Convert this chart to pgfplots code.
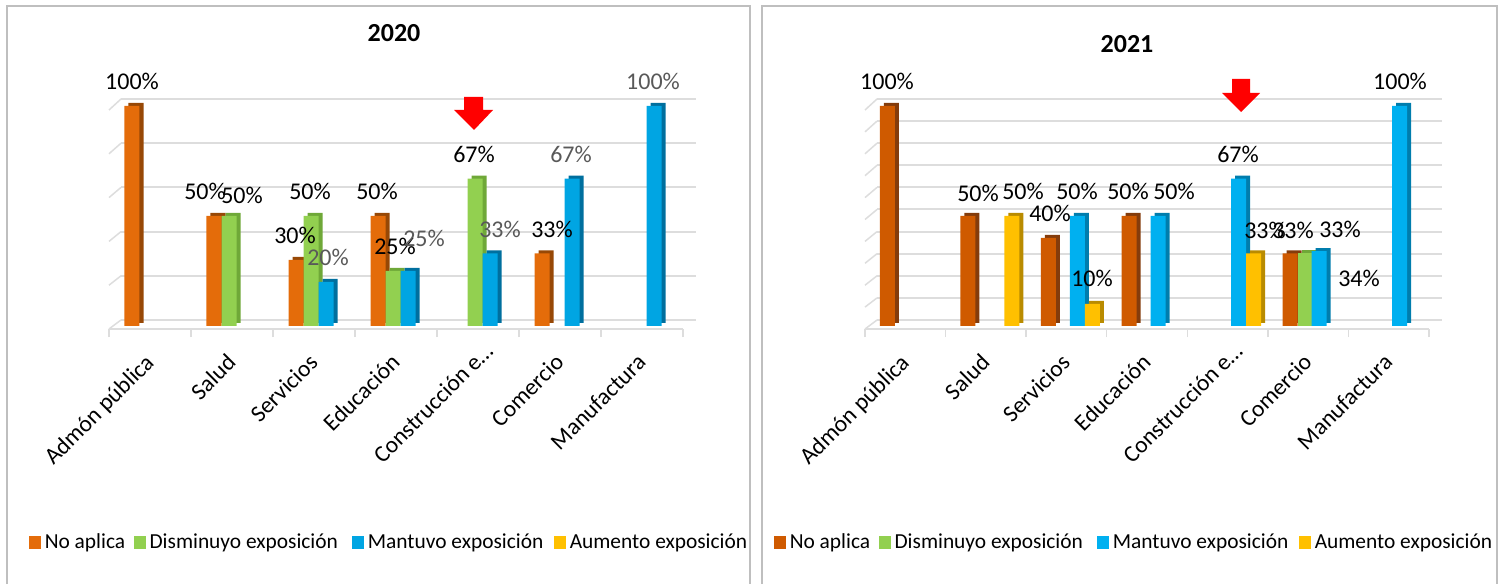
\documentclass[border=0pt]{standalone}
\usepackage{fontspec}
\setmainfont{Carlito}
\usepackage{pgfplots}
\usepackage{pgfplotstable}
\pgfplotsset{compat=1.18}

\definecolor{noA}{HTML}{E46C0A}\definecolor{noAs}{HTML}{974806}
\definecolor{noB}{HTML}{CF5A00}\definecolor{noBs}{HTML}{843C0C}
\definecolor{dis}{HTML}{92D050}\definecolor{diss}{HTML}{6FA838}
\definecolor{manA}{HTML}{00A5E3}\definecolor{manAs}{HTML}{006F9E}
\definecolor{manB}{HTML}{00B0F0}\definecolor{manBs}{HTML}{007DAD}
\definecolor{aum}{HTML}{FFC000}\definecolor{aums}{HTML}{B98B00}
\definecolor{gridc}{HTML}{DDDDDD}
\definecolor{framec}{HTML}{BFBFBF}
\definecolor{lab}{HTML}{595959}

% 2020
\pgfplotstableread{
x y
0 1
1 0.5
2 0.3
3 0.5
5 0.33
}\aNo
\pgfplotstableread{
x y
1 0.5
2 0.5
3 0.25
4 0.67
}\aDis
\pgfplotstableread{
x y
2 0.2
3 0.25
4 0.33
5 0.67
6 1
}\aMan
% 2021
\pgfplotstableread{
x y
0 1
1 0.5
2 0.4
3 0.5
5 0.33
}\bNo
\pgfplotstableread{
x y
5 0.33
}\bDis
\pgfplotstableread{
x y
2 0.5
3 0.5
4 0.67
5 0.34
6 1
}\bMan
\pgfplotstableread{
x y
1 0.5
2 0.1
4 0.33
}\bAum

% front face and darker side of one series: colour, side colour, shift, table
\newcommand{\barseries}[4]{%
  \addplot[ybar,bar width=15pt,bar shift=#3,fill=#2,draw=none,xshift=4pt,yshift=3pt,forget plot] table[x=x,y=y] {#4};
  \addplot[ybar,bar width=15pt,bar shift=#3,fill=#1,draw=none,forget plot] table[x=x,y=y] {#4};
}
\newcommand{\swatch}[2]{%
  \addlegendimage{legend image code/.code={\fill[#1] (0pt,-6pt) rectangle (11pt,6pt);}}
  \addlegendentry{#2}
}

\tikzset{lb/.style={font=\fontsize{24}{26}\selectfont,inner sep=0pt}}

\pgfplotsset{
  wall/.style={
    scale only axis,clip=false,
    xmin=0,xmax=1,ymin=0,ymax=1,
    axis line style={draw=none},
    xtick=\empty,yticklabels={},
    major tick length=0pt,
    ymajorgrids,
    grid style={gridc,line width=2pt},
  },
  front/.style={
    scale only axis,clip=false,
    width=574pt,height=223pt,
    xmin=-0.5,xmax=6.5,ymin=-0.01364,ymax=1,
    axis x line=bottom,axis y line=none,
    axis line style={gridc,line width=1.5pt,-},
    xtick={0,...,6},
    minor xtick={-0.5,0.5,...,6.5},
    major tick length=0pt,
    minor tick length=8pt,
    tick align=outside,
    minor tick style={gridc,line width=1.5pt},
    xticklabels={Admón pública,Salud,Servicios,Educación,Construcción e…\hspace*{-16pt},Comercio,Manufactura},
    xticklabel style={rotate=45,anchor=north east,inner sep=0pt,font=\fontsize{23.5}{25}\selectfont,yshift=-12pt,xshift=-21pt},
    legend columns=4,
    legend cell align=left,
    legend style={
      draw=none,fill=none,inner sep=0pt,anchor=west,
      font=\fontsize{21.4}{24}\selectfont,
      /tikz/every odd column/.style={column sep=2pt},
      /tikz/column 2/.style={column sep=7pt},
      /tikz/column 4/.style={column sep=12.5pt},
      /tikz/column 6/.style={column sep=9pt},
    },
  },
}

\begin{document}
\begin{tikzpicture}[x=1pt,y=1pt]
\path[use as bounding box] (0,0) rectangle (1505,584);

% panel frames
\draw[framec,line width=2pt] (7,0) -- (7,578) -- (750,578) -- (750,0);
\draw[framec,line width=2pt] (762,0) -- (762,578) -- (1497,578) -- (1497,0);

% ---------- 2020
\begin{axis}[wall,at={(121pt,264pt)},anchor=south west,width=575pt,height=221pt,ytick={0,0.2,0.4,0.6,0.8,1}]
\end{axis}
\foreach \v in {0,0.2,0.4,0.6,0.8,1}
  \draw[gridc,line width=1.5pt] (121,264+221*\v) -- (109,255+219*\v);
\begin{axis}[front,at={(109pt,255pt)},anchor=south west,legend style={at={(-0.139,-0.955)}}]
  \swatch{noA}{No aplica}
  \swatch{dis}{Disminuyo exposición}
  \swatch{manA}{Mantuvo exposición}
  \swatch{aum}{Aumento exposición}
  \barseries{noA}{noAs}{-18pt}{\aNo}
  \barseries{dis}{diss}{-3pt}{\aDis}
  \barseries{manA}{manAs}{12pt}{\aMan}
\end{axis}
\node[lb,font=\fontsize{26}{28}\selectfont\bfseries] at (394,551) {2020};
\fill[red] (464,487) -- (483,487) -- (483,474) -- (493,474) -- (474,454) -- (454,474) -- (464,474) -- cycle;
\foreach \px/\py/\t in {132/81/100\%,205/191/50\%,242/195/50\%,310/191/50\%,295/235/30\%,377/191/50\%,395/246/25\%,474/154/67\%,552/229/33\%}
  \node[lb] at (\px,584-\py) {\t};
\foreach \px/\py/\t in {653/81/100\%,328/257/20\%,424/238/25\%,500/229/33\%,571/154/67\%}
  \node[lb,text=lab] at (\px,584-\py) {\t};

% ---------- 2021
\begin{axis}[wall,at={(877pt,264pt)},anchor=south west,width=565pt,height=221pt,ytick={0,0.1,...,1}]
\end{axis}
\foreach \v in {0,0.1,0.2,0.3,0.4,0.5,0.6,0.7,0.8,0.9,1}
  \draw[gridc,line width=1.5pt] (877,264+221*\v) -- (865,255+219*\v);
\begin{axis}[front,at={(865pt,255pt)},anchor=south west,width=564pt,legend style={at={(-0.161,-0.955)}}]
  \swatch{noB}{No aplica}
  \swatch{dis}{Disminuyo exposición}
  \swatch{manB}{Mantuvo exposición}
  \swatch{aum}{Aumento exposición}
  \barseries{noB}{noBs}{-18pt}{\bNo}
  \barseries{dis}{diss}{-3pt}{\bDis}
  \barseries{manB}{manBs}{11pt}{\bMan}
  \barseries{aum}{aums}{26pt}{\bAum}
\end{axis}
\node[lb,font=\fontsize{26}{28}\selectfont\bfseries] at (1127,540) {2021};
\fill[red] (1232,505) -- (1250,505) -- (1250,491) -- (1260,491) -- (1241,472) -- (1222,491) -- (1232,491) -- cycle;
\foreach \px/\py/\t in {887/81/100\%,1400/81/100\%,978/193/50\%,1023/191/50\%,1077/191/50\%,1050/213/40\%,1092/278/10\%,1128/191/50\%,1174/191/50\%,1238/154/67\%,1265/230/33\%,1293/230/33\%,1340/229/33\%,1359/278/34\%}
  \node[lb] at (\px,584-\py) {\t};
\end{tikzpicture}
\end{document}
